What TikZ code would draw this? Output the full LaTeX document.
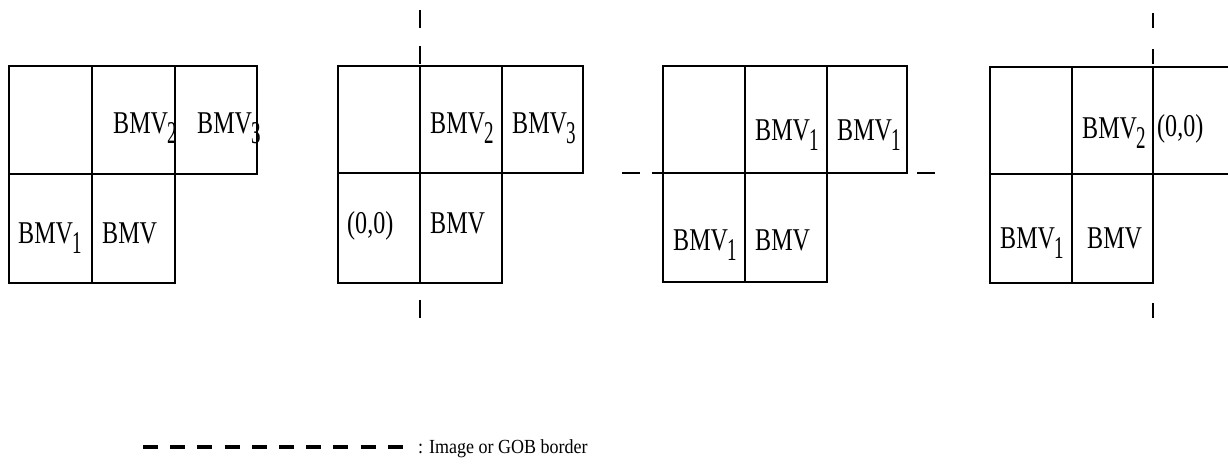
\documentclass[tikz,border=0pt]{standalone}
\usepackage{fontspec}
\setmainfont{Liberation Serif}
\usepackage{graphicx}
\newcommand{\cnd}[1]{\scalebox{0.76}[1]{#1}}
\newcommand{\bmvs}[1]{\cnd{BMV}\kern-1pt\raisebox{-10pt}{\scalebox{0.6}[1]{#1}}}
\tikzset{
  grid/.style={draw=black, line width=2pt, line cap=rect},
  border/.style={draw=black, line width=2.4pt},
  lbl/.style={anchor=base west, inner sep=0pt, font=\fontsize{31.7}{32}\selectfont},
  legtext/.style={anchor=base west, inner sep=0pt, font=\fontsize{20}{22}\selectfont},
}
\begin{document}
\begin{tikzpicture}[x=1pt,y=-1pt]
\useasboundingbox (0,0) rectangle (1228,463);

% ---- group 1
\draw[grid] (9,66) rectangle (257,174);
\draw[grid] (9,174) rectangle (175,283);
\draw[grid] (92,66) -- (92,283);
\draw[grid] (175,66) -- (175,174);
\node[lbl] (g1a) at (113,133) {\bmvs{2}};
\node[lbl] (g1b) at (197,133) {\bmvs{3}};
\node[lbl] (g1c) at (18,243) {\bmvs{1}};
\node[lbl] (g1d) at (102,243) {\cnd{BMV}};

% ---- group 2
\draw[grid] (338,66) rectangle (583,173);
\draw[grid] (338,173) rectangle (502,283);
\draw[grid] (420,66) -- (420,283);
\draw[grid] (502,66) -- (502,173);
\coordinate (v2t) at (420,10);
\coordinate (v2b) at (420,318);
\draw[border, dash pattern=on 18pt off 18.25pt] (v2t) -- (v2b);
\node[lbl] (g2a) at (430,133) {\bmvs{2}};
\node[lbl] (g2b) at (512,133) {\bmvs{3}};
\node[lbl] (g2c) at (347,233) {\cnd{(0,0)}};
\node[lbl] (g2d) at (430,233) {\cnd{BMV}};

% ---- group 3
\draw[grid] (663,66) rectangle (907,173);
\draw[grid] (663,173) rectangle (827,282);
\draw[grid] (745,66) -- (745,282);
\draw[grid] (827,66) -- (827,173);
\coordinate (h3l) at (622,173);
\coordinate (h3r) at (935,173);
\draw[border, dash pattern=on 18pt off 11.5pt] (h3l) -- (h3r);
\node[lbl] (g3a) at (755,140) {\bmvs{1}};
\node[lbl] (g3b) at (837,140) {\bmvs{1}};
\node[lbl] (g3c) at (673,250) {\bmvs{1}};
\node[lbl] (g3d) at (755,250) {\cnd{BMV}};

% ---- group 4
\draw[grid] (1232,67) -- (990,67) -- (990,283) -- (1153,283);
\draw[grid] (990,174) -- (1232,174);
\draw[grid] (1072,67) -- (1072,283);
\draw[grid] (1153,67) -- (1153,283);
\coordinate (v4t) at (1153,13);
\coordinate (v4b) at (1153,318);
\draw[border, dash pattern=on 15pt off 21.25pt] (v4t) -- (v4b);
\node[lbl] (g4a) at (1082,138) {\bmvs{2}};
\node[lbl] (g4b) at (1157,136) {\cnd{(0,0)}};
\node[lbl] (g4c) at (1000,248) {\bmvs{1}};
\node[lbl] (g4d) at (1087,248) {\cnd{BMV}};

% ---- legend
\coordinate (lgl) at (143,447);
\coordinate (lgr) at (403,447);
\draw[draw=black, line width=3.5pt, dash pattern=on 15pt off 12.2pt] (lgl) -- (lgr);
\node[legtext] (legend) at (418,453) {\scalebox{0.9}[1]{: Image or GOB border}};
\end{tikzpicture}
\end{document}
